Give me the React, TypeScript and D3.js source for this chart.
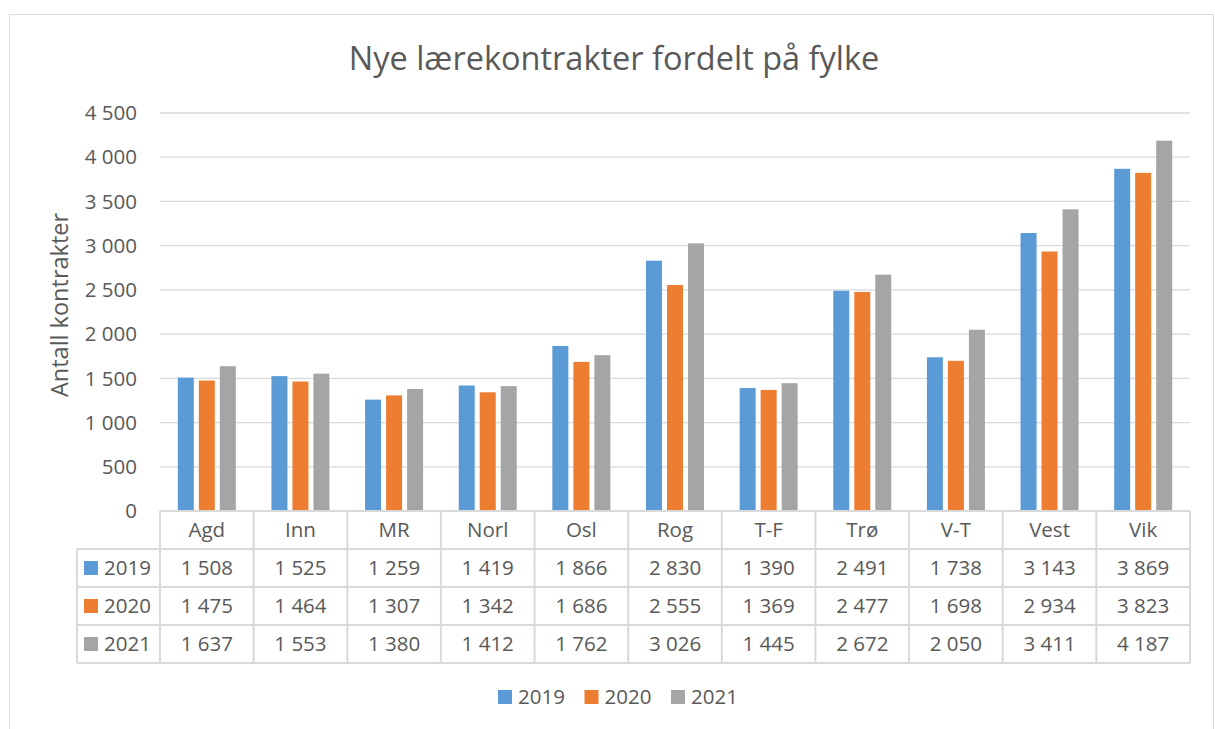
import React from "react";
import * as d3 from "d3";

const categories = ["Agd", "Inn", "MR", "Norl", "Osl", "Rog", "T-F", "Trø", "V-T", "Vest", "Vik"];
const seriesNames = ["2019", "2020", "2021"];
const values2019 = [1508, 1525, 1259, 1419, 1866, 2830, 1390, 2491, 1738, 3143, 3869];
const values2020 = [1475, 1464, 1307, 1342, 1686, 2555, 1369, 2477, 1698, 2934, 3823];
const values2021 = [1637, 1553, 1380, 1412, 1762, 3026, 1445, 2672, 2050, 3411, 4187];
const yTicks = [0, 500, 1000, 1500, 2000, 2500, 3000, 3500, 4000, 4500];
const colors = ["#5B9BD5", "#ED7D31", "#A5A5A5"];

const W = 1215;
const H = 729;
const font = "'Open Sans', 'Noto Sans', sans-serif";
const textColor = "#595959";
const gridColor = "#D9D9D9";

// thousand separator with space, like the original
const fmt = (v: number) => d3.format(",")(v).replace(/,/g, " ");

export default function App() {
  const series = [values2019, values2020, values2021];
  const left = 160;
  const right = 1190;
  const top = 113;
  const bottom = 511;
  const rowH = 38;
  const tableLeft = 77;
  const fs = 20.5;

  const x = d3.scaleBand<string>().domain(categories).range([left, right]);
  const y = d3.scaleLinear().domain([0, 4500]).range([bottom, top]);
  const barW = 16;
  const step = 21;
  const inner = d3
    .scaleOrdinal<string, number>()
    .domain(seriesNames)
    .range(seriesNames.map((_, i) => (i - 1) * step - barW / 2));

  const rowY = (r: number) => bottom + rowH * r;

  return (
    <svg
      width={W}
      height={H}
      style={{ position: "fixed", top: 0, left: 0, background: "#fff" }}
      fontFamily={font}
    >
      <rect x={9.5} y={14.5} width={W - 11} height={H} fill="#fff" stroke={gridColor} />
      <text x={614} y={70} textAnchor="middle" fontSize={32.5} fill={textColor}>
        Nye lærekontrakter fordelt på fylke
      </text>
      <text
        transform="translate(68,305) rotate(-90)"
        textAnchor="middle"
        fontSize={23.5}
        fill={textColor}
      >
        Antall kontrakter
      </text>

      {yTicks.map((t) => (
        <g key={t}>
          {t > 0 && <line x1={left} x2={right} y1={y(t)} y2={y(t)} stroke={gridColor} strokeWidth={1.3} />}
          <text x={137} y={y(t)} dy="0.35em" textAnchor="end" fontSize={fs} fill={textColor}>
            {fmt(t)}
          </text>
        </g>
      ))}

      {categories.map((c, ci) =>
        series.map((vals, si) => (
          <rect
            key={c + si}
            x={(x(c) as number) + x.bandwidth() / 2 + (inner(seriesNames[si]) as number)}
            y={y(vals[ci])}
            width={barW}
            height={bottom - y(vals[ci])}
            fill={colors[si]}
          />
        ))
      )}

      {/* data table */}
      <g stroke={gridColor} strokeWidth={2}>
        <line x1={left} x2={right} y1={rowY(0)} y2={rowY(0)} />
        {[1, 2, 3, 4].map((r) => (
          <line key={r} x1={tableLeft} x2={right} y1={rowY(r)} y2={rowY(r)} />
        ))}
        <line x1={tableLeft} x2={tableLeft} y1={rowY(1)} y2={rowY(4)} />
        {categories.map((c) => (
          <line key={c} x1={x(c)} x2={x(c)} y1={rowY(0)} y2={rowY(4)} />
        ))}
        <line x1={right} x2={right} y1={rowY(0)} y2={rowY(4)} />
      </g>
      {categories.map((c) => (
        <text
          key={c}
          x={(x(c) as number) + x.bandwidth() / 2}
          y={rowY(0) + rowH / 2}
          dy="0.35em"
          textAnchor="middle"
          fontSize={fs}
          fill={textColor}
        >
          {c}
        </text>
      ))}
      {series.map((vals, si) => (
        <g key={si}>
          <rect x={84} y={rowY(si + 1) + rowH / 2 - 7} width={14} height={14} fill={colors[si]} />
          <text x={104} y={rowY(si + 1) + rowH / 2} dy="0.35em" fontSize={fs} fill={textColor}>
            {seriesNames[si]}
          </text>
          {vals.map((v, ci) => (
            <text
              key={ci}
              x={(x(categories[ci]) as number) + x.bandwidth() / 2}
              y={rowY(si + 1) + rowH / 2}
              dy="0.35em"
              textAnchor="middle"
              fontSize={fs}
              fill={textColor}
            >
              {fmt(v)}
            </text>
          ))}
        </g>
      ))}

      {/* legend */}
      {seriesNames.map((s, si) => (
        <g key={s} transform={`translate(${498 + si * 86.5},697)`}>
          <rect x={0} y={-7} width={14} height={14} fill={colors[si]} />
          <text x={20} y={0} dy="0.35em" fontSize={fs} fill={textColor}>
            {s}
          </text>
        </g>
      ))}
    </svg>
  );
}
